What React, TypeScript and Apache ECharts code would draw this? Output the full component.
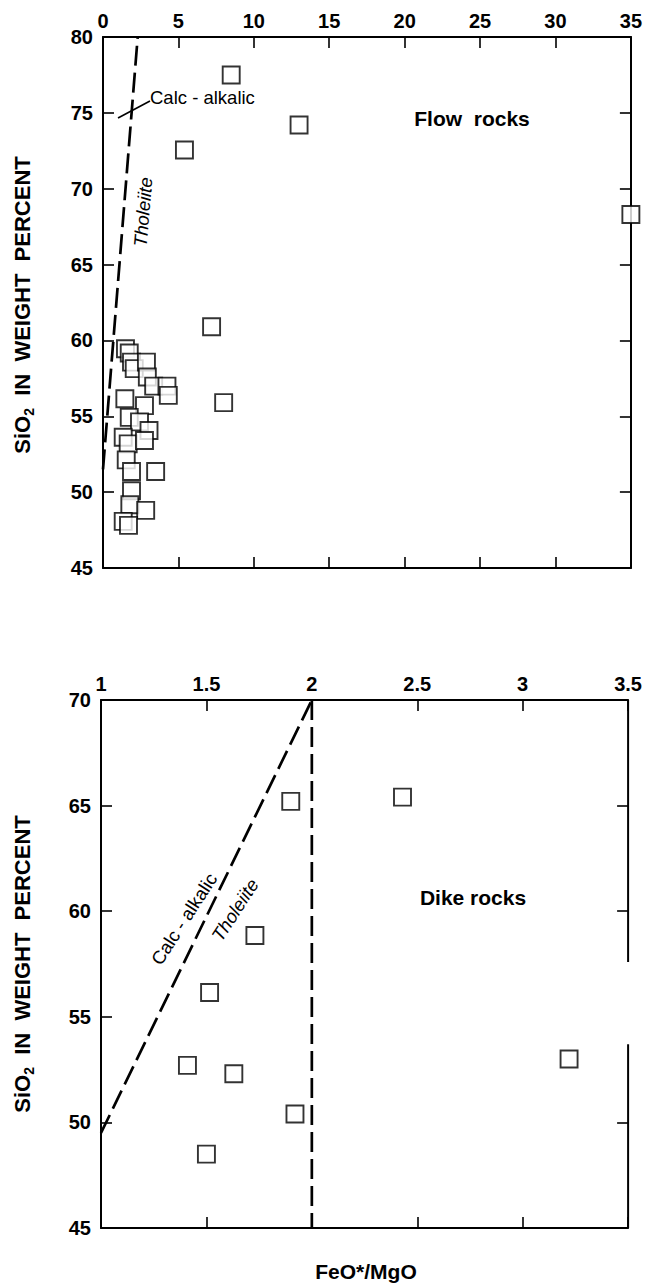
import React, { useEffect, useRef } from "react";
import * as echarts from "echarts";

// Flow rocks (top panel): FeO*/MgO vs SiO2
const flowFeoMgo = [8.5, 13.0, 5.4, 35, 7.2, 8.0,
  1.49, 1.74, 1.89, 2.07, 2.88, 2.94, 3.36, 4.24, 4.33, 1.45, 2.75, 1.74, 2.42, 3.05,
  1.34, 1.67, 2.75, 1.54, 1.89, 3.49, 1.89, 1.78, 2.83, 1.34, 1.69];
const flowSiO2 = [77.5, 74.2, 72.55, 68.3, 60.9, 55.9,
  59.45, 59.17, 58.57, 58.14, 58.57, 57.59, 56.99, 56.99, 56.38, 56.16, 55.7, 54.93, 54.63, 54.06,
  53.62, 53.18, 53.4, 52.13, 51.36, 51.36, 50.09, 49.17, 48.8, 48.07, 47.81];
// Flow rocks dividing line
const flowLineX = [0, 2.3];
const flowLineY = [51.5, 80];

// Dike rocks (bottom panel)
const dikeFeoMgo = [1.9, 2.43, 1.73, 1.515, 1.41, 1.63, 1.92, 1.5, 3.22];
const dikeSiO2 = [65.2, 65.4, 58.85, 56.15, 52.7, 52.3, 50.4, 48.5, 53.0];
// Dike rocks dividing lines
const dikeDiagX = [1, 2];
const dikeDiagY = [49.5, 70];
const dikeVertX = [2, 2];
const dikeVertY = [70, 45];
// right frame segments of lower panel (with gap as in the original)
const rightFrameX = [3.5, 3.5];
const rightFrameUpperY = [70, 57.6];
const rightFrameLowerY = [53.7, 45];
const rightFrameTicks = [50, 60, 65];

const topXTicks = { min: 0, max: 35, interval: 5 };
const topYTicks = { min: 45, max: 80, interval: 5 };
const botXTicks = { min: 1, max: 3.5, interval: 0.5 };
const botYTicks = { min: 45, max: 70, interval: 5 };

const FONT = "Liberation Sans, Arial, Helvetica, sans-serif";
const zip = (a: number[], b: number[]) => a.map((v, i) => [v, b[i]]);

export default function App() {
  const ref = useRef<HTMLDivElement>(null);
  useEffect(() => {
    document.body.style.margin = "0";
    const chart = echarts.init(ref.current!, null, { renderer: "svg" });
    const axisLine = { show: true, lineStyle: { color: "#000", width: 2 } };
    const tick = { show: true, inside: true, length: 11, lineStyle: { color: "#000", width: 1.6 } };
    const lab = { fontSize: 20, fontWeight: "bold", color: "#000", fontFamily: FONT };
    const mkX = (grid: number, t: any, pos: string, labels: boolean) => ({
      type: "value", gridIndex: grid, position: pos, ...t,
      axisLine: { ...axisLine, onZero: false }, axisTick: tick,
      axisLabel: { show: labels, margin: 6, ...lab, formatter: (v: number) => String(v) },
      splitLine: { show: false },
    });
    const mkY = (grid: number, t: any, pos: string, labels: boolean, line = true, customTicks?: number[]) => ({
      type: "value", gridIndex: grid, position: pos, ...t,
      axisLine: { ...axisLine, show: line, onZero: false },
      axisTick: customTicks ? { ...tick, customValues: customTicks } : tick,
      axisLabel: { show: labels, margin: 10, ...lab },
      splitLine: { show: false },
    });
    const sq = {
      symbol: "rect", symbolSize: 17,
      itemStyle: { color: "#fff", borderColor: "#000", borderWidth: 1.9 },
    };
    const dashed = { color: "#000", width: 2.7, type: [20, 7] };
    const yName = (cy: number) => ({
      type: "text", x: 22, y: cy, rotation: Math.PI / 2,
      style: {
        text: "{a|SiO}{b|2}{a|  IN  WEIGHT  PERCENT}",
        align: "center", verticalAlign: "middle",
        rich: {
          a: { fontSize: 22, fontWeight: "bold", fontFamily: FONT, fill: "#000", lineHeight: 26 },
          b: { fontSize: 14, fontWeight: "bold", fontFamily: FONT, fill: "#000", padding: [13, 0, 0, 0], lineHeight: 26 },
        },
      },
    });
    chart.setOption({
      animation: false,
      backgroundColor: "#fff",
      grid: [
        { left: 103, right: 11, top: 37, height: 531 },
        { left: 101, right: 13, top: 700, height: 528 },
      ],
      xAxis: [
        mkX(0, topXTicks, "top", true),
        mkX(0, topXTicks, "bottom", false),
        mkX(1, botXTicks, "top", true),
        mkX(1, botXTicks, "bottom", false),
      ],
      yAxis: [
        mkY(0, topYTicks, "left", true),
        mkY(0, topYTicks, "right", false),
        mkY(1, botYTicks, "left", true),
        mkY(1, botYTicks, "right", false, false, rightFrameTicks),
      ],
      series: [
        { type: "line", xAxisIndex: 0, yAxisIndex: 0, data: zip(flowLineX, flowLineY), symbol: "none", lineStyle: dashed, clip: false },
        { type: "scatter", xAxisIndex: 0, yAxisIndex: 0, data: zip(flowFeoMgo, flowSiO2), ...sq, clip: false },
        { type: "line", xAxisIndex: 2, yAxisIndex: 2, data: zip(dikeDiagX, dikeDiagY), symbol: "none", lineStyle: dashed, clip: false },
        { type: "line", xAxisIndex: 2, yAxisIndex: 2, data: zip(dikeVertX, dikeVertY), symbol: "none", lineStyle: dashed, clip: false },
        { type: "line", xAxisIndex: 2, yAxisIndex: 2, data: zip(rightFrameX, rightFrameUpperY), symbol: "none", lineStyle: { color: "#000", width: 2 }, clip: false },
        { type: "line", xAxisIndex: 2, yAxisIndex: 2, data: zip(rightFrameX, rightFrameLowerY), symbol: "none", lineStyle: { color: "#000", width: 2 }, clip: false },
        { type: "scatter", xAxisIndex: 2, yAxisIndex: 2, data: zip(dikeFeoMgo, dikeSiO2), ...sq, clip: false },
      ],
      graphic: [
        yName(305),
        yName(964),
        { type: "text", x: 472, y: 118, style: { text: "Flow  rocks", fontSize: 21, fontWeight: "bold", fontFamily: FONT, fill: "#000", align: "center", verticalAlign: "middle" } },
        { type: "text", x: 473, y: 897, style: { text: "Dike rocks", fontSize: 21, fontWeight: "bold", fontFamily: FONT, fill: "#000", align: "center", verticalAlign: "middle" } },
        { type: "text", x: 150, y: 97, style: { text: "Calc - alkalic", fontSize: 18.5, fontFamily: FONT, fill: "#000", align: "left", verticalAlign: "middle" } },
        { type: "line", shape: { x1: 118, y1: 118, x2: 150, y2: 101 }, style: { stroke: "#000", lineWidth: 1.6 } },
        { type: "text", x: 143, y: 212, rotation: (85 * Math.PI) / 180, style: { text: "Tholeiite", fontSize: 18.5, fontStyle: "italic", fontFamily: FONT, fill: "#000", align: "center", verticalAlign: "middle" } },
        { type: "text", x: 184, y: 919, rotation: (57 * Math.PI) / 180, style: { text: "Calc - alkalic", fontSize: 18.5, fontFamily: FONT, fill: "#000", align: "center", verticalAlign: "middle" } },
        { type: "text", x: 235, y: 910, rotation: (57 * Math.PI) / 180, style: { text: "Tholeiite", fontSize: 18.5, fontStyle: "italic", fontFamily: FONT, fill: "#000", align: "center", verticalAlign: "middle" } },
        { type: "text", x: 366, y: 1271, style: { text: "FeO*/MgO", fontSize: 21, fontWeight: "bold", fontFamily: FONT, fill: "#000", align: "center", verticalAlign: "middle" } },
      ],
    });
    return () => chart.dispose();
  }, []);
  return <div ref={ref} style={{ width: 645, height: 1284 }} />;
}
